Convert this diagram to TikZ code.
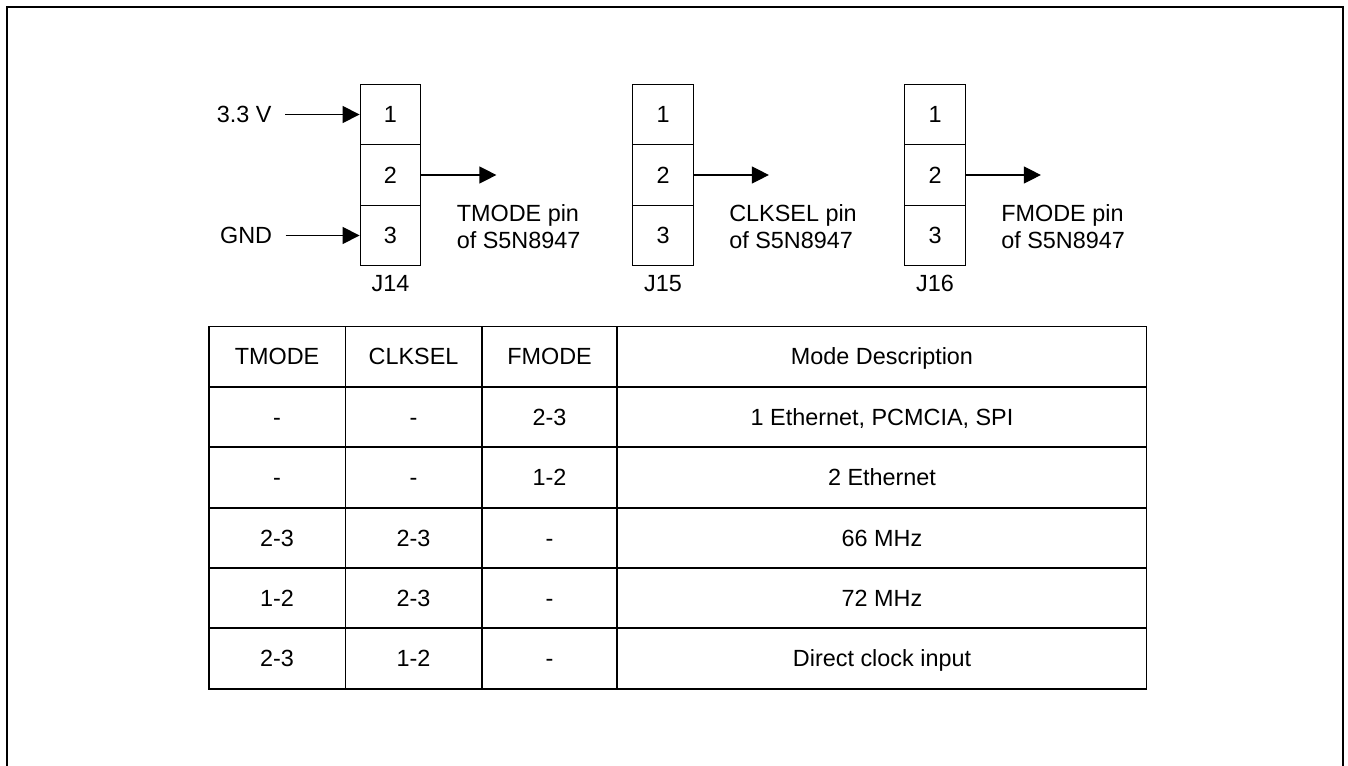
\documentclass[tikz,border=0pt]{standalone}
\usepackage{fontspec}
\setmainfont{Liberation Sans}
\usetikzlibrary{arrows.meta,positioning}

\tikzset{
  pincell/.style={draw,line width=0.6pt,minimum width=30.3pt,minimum height=30.3pt,inner sep=0pt,text height=8.4pt,text depth=0pt},
  sig/.style={line width=0.6pt,-{Triangle[length=8.5pt,width=8.5pt]}},
  tcell/.style={inner sep=0pt,text height=8.4pt,text depth=0pt},
  grid/.style={line width=0.7pt},
}

\begin{document}
\begin{tikzpicture}[x=0.5pt,y=0.5pt,yscale=-1,xscale=1,font=\fontsize{11.7}{13.5}\selectfont]
\useasboundingbox (0,0) rectangle (1348,765);
%Frame
\draw [line width=1pt] (6.5,780) -- (6.5,7.5) -- (1342.5,7.5) -- (1342.5,780);

%Jumpers
\foreach \x/\jn/\pinname in {390.5/J14/TMODE, 663/J15/CLKSEL, 935/J16/FMODE}{
  \node [pincell] (\jn-1) at (\x,114.5) {1};
  \node [pincell] (\jn-2) at (\x,175) {2};
  \node [pincell] (\jn-3) at (\x,235.5) {3};
  \node [tcell] (\jn-lbl) at (\x,283) {\jn};
  \coordinate (\jn-out) at ([xshift=37.5pt]\jn-2.east);
  \draw [sig] (\jn-2.east) -- (\jn-out);
  \node [inner sep=0pt,anchor=west,align=left] (\jn-txt) at ([xshift=17.5pt,yshift=26pt]\jn-2.east) {\pinname{} pin\\of S5N8947};
}

%Supply inputs
\node [tcell,anchor=east] (vcc) at (272,114.5) {3.3 V};
\node [tcell,anchor=east] (gnd) at (272.5,235.5) {GND};
\draw [sig] ([xshift=6.5pt]vcc.east) -- (J14-1.west);
\draw [sig] ([xshift=6.5pt]gnd.east) -- (J14-3.west);

%Table
\draw [grid] (209,326.5) rectangle (1146.5,689);
\foreach \y in {387,447,508,568,628}
  \draw [grid] (209,\y) -- (1146.5,\y);
\foreach \x in {345.5,482,617}
  \draw [grid] (\x,326.5) -- (\x,689);

\foreach \r/\y/\ta/\tb/\tc/\td in {
  0/356.5/TMODE/CLKSEL/FMODE/Mode Description,
  1/417/-/-/2-3/{1 Ethernet, PCMCIA, SPI},
  2/477.5/-/-/1-2/2 Ethernet,
  3/538/2-3/2-3/-/66 MHz,
  4/598/1-2/2-3/-/72 MHz,
  5/658.5/2-3/1-2/-/Direct clock input}{
  \node [tcell] (t\r-a) at (277,\y) {\ta};
  \node [tcell] (t\r-b) at (413.5,\y) {\tb};
  \node [tcell] (t\r-c) at (549.5,\y) {\tc};
  \node [tcell] (t\r-d) at (882,\y) {\td};
}
\end{tikzpicture}
\end{document}
